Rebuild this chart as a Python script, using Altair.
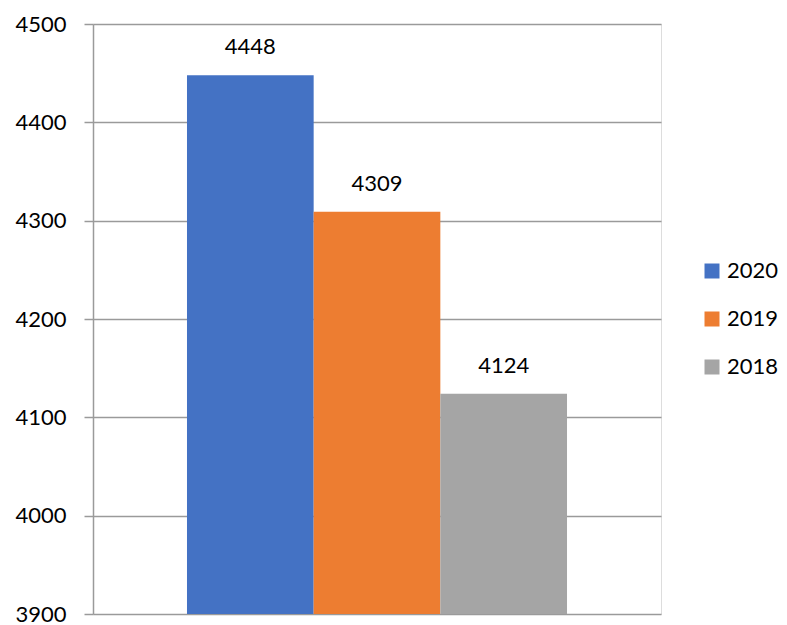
import altair as alt
import pandas as pd

years = ["2020", "2019", "2018"]
values = [4448, 4309, 4124]
colors = ["#4472C4", "#ED7D31", "#A5A5A5"]

df = pd.DataFrame({"year": years, "value": values})

FONT = "Lato"

x = alt.X("year:N", sort=years,
          scale=alt.Scale(domain=years, paddingInner=0, paddingOuter=0.742),
          axis=None)
y = alt.Y("value:Q",
          scale=alt.Scale(domain=[3900, 4500], nice=False, zero=False),
          axis=alt.Axis(values=[3900, 4000, 4100, 4200, 4300, 4400, 4500],
                        title=None, format="d", labelFontSize=22, labelFont=FONT,
                        labelColor="#000000", tickColor="#9a9a9a", tickSize=9,
                        domainColor="#9a9a9a", domainWidth=1.5,
                        gridColor="#9a9a9a", gridWidth=1.5, tickWidth=1.5,
                        labelPadding=18))

bars = alt.Chart(df).mark_bar(clip=True).encode(
    x=x,
    y=y,
    y2=alt.datum(3900),
    color=alt.Color("year:N", sort=years,
                    scale=alt.Scale(domain=years, range=colors),
                    legend=alt.Legend(title=None, orient="none", legendX=608, legendY=236,
                                      symbolType="square", symbolSize=225,
                                      symbolStrokeWidth=0, labelFontSize=22,
                                      labelFont=FONT, labelColor="#000000",
                                      rowPadding=26, labelOffset=4, labelLimit=200)),
)

labels = alt.Chart(df).mark_text(baseline="bottom", dy=-16, fontSize=22, font=FONT,
                                 color="#000000").encode(
    x=x,
    y=alt.Y("value:Q"),
    text=alt.Text("value:Q", format="d"),
)

chart = (bars + labels).properties(
    width=568, height=590,
    autosize=alt.AutoSizeParams(type="none"),
    padding={"left": 85, "top": 16, "right": 118, "bottom": 10},
).configure_view(stroke=None).configure(background="#ffffff")

chart.save("out.html", embed_options={"renderer": "svg", "actions": False})
